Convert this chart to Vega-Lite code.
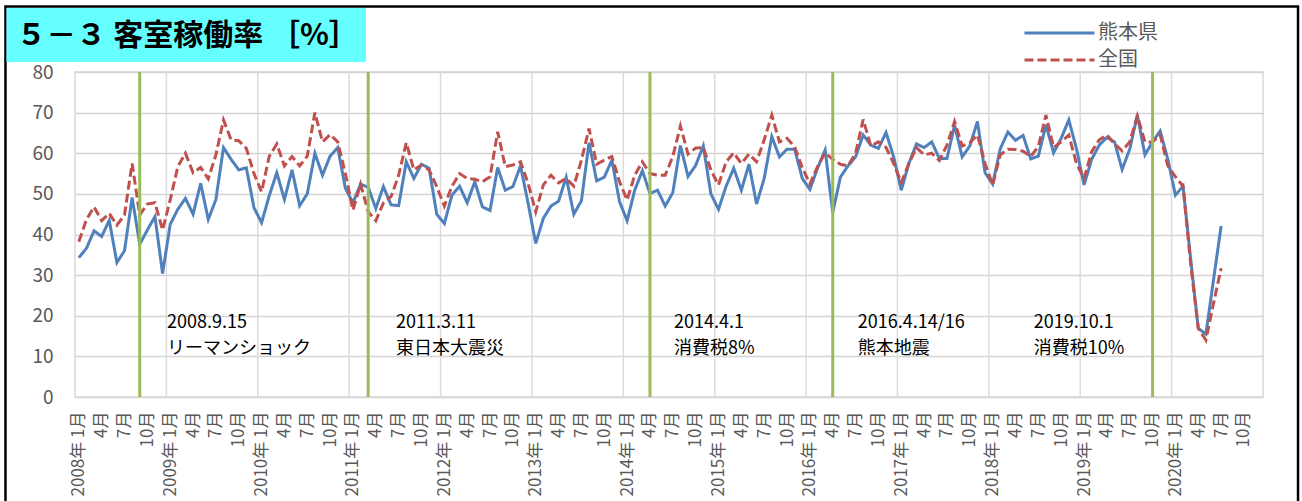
{
  "$schema": "https://vega.github.io/schema/vega-lite/v6.json",
  "width": 1188,
  "height": 325,
  "autosize": {"type": "none"},
  "padding": {"left": 75, "top": 72, "right": 39, "bottom": 104},
  "background": "white",
  "config": {
    "font": "Noto Sans CJK JP",
    "view": {"stroke": "#d9d9d9", "strokeWidth": 1.5}
  },
  "datasets": {
    "rates": [
      {"i":0,"熊本県":34.3,"全国":38.2},{"i":1,"熊本県":36.6,"全国":43.7},{"i":2,"熊本県":40.9,"全国":46.8},{"i":3,"熊本県":39.5,"全国":43.4},
      {"i":4,"熊本県":43.5,"全国":45.2},{"i":5,"熊本県":33.1,"全国":42.3},{"i":6,"熊本県":36.0,"全国":44.8},{"i":7,"熊本県":49.1,"全国":57.5},
      {"i":8,"熊本県":37.6,"全国":44.8},{"i":9,"熊本県":41.1,"全国":47.5},{"i":10,"熊本県":44.4,"全国":47.8},{"i":11,"熊本県":30.4,"全国":41.1},
      {"i":12,"熊本県":42.5,"全国":48.5},{"i":13,"熊本県":46.2,"全国":56.7},{"i":14,"熊本県":48.9,"全国":60.0},{"i":15,"熊本県":45.0,"全国":55.2},
      {"i":16,"熊本県":52.6,"全国":56.5},{"i":17,"熊本県":43.7,"全国":53.7},{"i":18,"熊本県":48.6,"全国":59.6},{"i":19,"熊本県":61.4,"全国":68.2},
      {"i":20,"熊本県":58.5,"全国":63.3},{"i":21,"熊本県":55.9,"全国":63.1},{"i":22,"熊本県":56.4,"全国":61.2},{"i":23,"熊本県":46.6,"全国":55.0},
      {"i":24,"熊本県":42.9,"全国":50.5},{"i":25,"熊本県":49.5,"全国":59.2},{"i":26,"熊本県":55.2,"全国":62.3},{"i":27,"熊本県":48.6,"全国":56.9},
      {"i":28,"熊本県":55.9,"全国":59.2},{"i":29,"熊本県":47.1,"全国":56.9},{"i":30,"熊本県":50.0,"全国":59.3},{"i":31,"熊本県":60.0,"全国":70.0},
      {"i":32,"熊本県":54.6,"全国":62.8},{"i":33,"熊本県":59.3,"全国":64.6},{"i":34,"熊本県":61.4,"全国":62.8},{"i":35,"熊本県":51.4,"全国":55.0},
      {"i":36,"熊本県":47.8,"全国":46.0},{"i":37,"熊本県":52.4,"全国":52.4},{"i":38,"熊本県":51.6,"全国":45.6},{"i":39,"熊本県":46.4,"全国":43.4},
      {"i":40,"熊本県":51.8,"全国":47.8},{"i":41,"熊本県":47.3,"全国":49.3},{"i":42,"熊本県":47.1,"全国":54.6},{"i":43,"熊本県":57.9,"全国":62.6},
      {"i":44,"熊本県":53.8,"全国":55.9},{"i":45,"熊本県":57.3,"全国":57.1},{"i":46,"熊本県":56.3,"全国":55.9},{"i":47,"熊本県":45.0,"全国":51.8},
      {"i":48,"熊本県":42.7,"全国":47.0},{"i":49,"熊本県":49.7,"全国":51.9},{"i":50,"熊本県":51.9,"全国":55.0},{"i":51,"熊本県":47.8,"全国":53.8},
      {"i":52,"熊本県":53.0,"全国":53.6},{"i":53,"熊本県":46.8,"全国":53.0},{"i":54,"熊本県":45.9,"全国":54.2},{"i":55,"熊本県":56.5,"全国":65.3},
      {"i":56,"熊本県":50.9,"全国":56.7},{"i":57,"熊本県":51.8,"全国":57.1},{"i":58,"熊本県":56.9,"全国":57.9},{"i":59,"熊本県":47.7,"全国":52.6},
      {"i":60,"熊本県":37.8,"全国":45.6},{"i":61,"熊本県":44.0,"全国":52.2},{"i":62,"熊本県":47.0,"全国":54.6},{"i":63,"熊本県":48.2,"全国":52.7},
      {"i":64,"熊本県":54.1,"全国":53.8},{"i":65,"熊本県":45.0,"全国":51.9},{"i":66,"熊本県":48.3,"全国":58.3},{"i":67,"熊本県":62.6,"全国":66.1},
      {"i":68,"熊本県":53.2,"全国":57.3},{"i":69,"熊本県":54.1,"全国":58.3},{"i":70,"熊本県":58.3,"全国":59.2},{"i":71,"熊本県":48.1,"全国":53.0},
      {"i":72,"熊本県":43.4,"全国":48.5},{"i":73,"熊本県":50.9,"全国":54.6},{"i":74,"熊本県":55.7,"全国":57.9},{"i":75,"熊本県":50.1,"全国":55.0},
      {"i":76,"熊本県":50.9,"全国":54.6},{"i":77,"熊本県":47.0,"全国":54.6},{"i":78,"熊本県":50.3,"全国":59.2},{"i":79,"熊本県":61.9,"全国":66.7},
      {"i":80,"熊本県":54.3,"全国":59.8},{"i":81,"熊本県":57.0,"全国":61.3},{"i":82,"熊本県":61.8,"全国":61.4},{"i":83,"熊本県":50.0,"全国":55.9},
      {"i":84,"熊本県":46.2,"全国":52.2},{"i":85,"熊本県":51.9,"全国":57.9},{"i":86,"熊本県":56.3,"全国":60.1},{"i":87,"熊本県":50.9,"全国":57.5},
      {"i":88,"熊本県":57.3,"全国":59.8},{"i":89,"熊本県":47.5,"全国":57.9},{"i":90,"熊本県":53.8,"全国":63.3},{"i":91,"熊本県":64.1,"全国":69.4},
      {"i":92,"熊本県":59.1,"全国":62.8},{"i":93,"熊本県":61.0,"全国":63.7},{"i":94,"熊本県":61.0,"全国":61.6},{"i":95,"熊本県":53.8,"全国":56.5},
      {"i":96,"熊本県":51.1,"全国":52.4},{"i":97,"熊本県":56.3,"全国":56.7},{"i":98,"熊本県":60.8,"全国":60.1},{"i":99,"熊本県":45.4,"全国":58.5},
      {"i":100,"熊本県":54.1,"全国":57.3},{"i":101,"熊本県":56.9,"全国":56.9},{"i":102,"熊本県":59.1,"全国":60.0},{"i":103,"熊本県":64.5,"全国":68.3},
      {"i":104,"熊本県":62.0,"全国":61.8},{"i":105,"熊本県":61.2,"全国":62.8},{"i":106,"熊本県":65.1,"全国":61.4},{"i":107,"熊本県":59.1,"全国":57.5},
      {"i":108,"熊本県":50.9,"全国":52.8},{"i":109,"熊本県":57.5,"全国":57.5},{"i":110,"熊本県":62.3,"全国":61.4},{"i":111,"熊本県":61.4,"全国":59.6},
      {"i":112,"熊本県":62.8,"全国":60.0},{"i":113,"熊本県":58.7,"全国":58.2},{"i":114,"熊本県":58.7,"全国":62.0},{"i":115,"熊本県":66.9,"全国":67.8},
      {"i":116,"熊本県":59.1,"全国":61.8},{"i":117,"熊本県":61.8,"全国":62.6},{"i":118,"熊本県":67.8,"全国":64.5},{"i":119,"熊本県":55.2,"全国":57.5},
      {"i":120,"熊本県":52.4,"全国":52.2},{"i":121,"熊本県":61.1,"全国":59.6},{"i":122,"熊本県":65.2,"全国":61.0},{"i":123,"熊本県":63.2,"全国":60.9},
      {"i":124,"熊本県":64.4,"全国":60.5},{"i":125,"熊本県":58.6,"全国":59.2},{"i":126,"熊本県":59.3,"全国":61.7},{"i":127,"熊本県":67.0,"全国":69.4},
      {"i":128,"熊本県":60.1,"全国":61.4},{"i":129,"熊本県":63.7,"全国":62.8},{"i":130,"熊本県":68.2,"全国":64.5},{"i":131,"熊本県":61.2,"全国":57.5},
      {"i":132,"熊本県":52.2,"全国":53.8},{"i":133,"熊本県":58.5,"全国":60.4},{"i":134,"熊本県":62.0,"全国":63.3},{"i":135,"熊本県":63.9,"全国":64.5},
      {"i":136,"熊本県":62.8,"全国":62.3},{"i":137,"熊本県":56.0,"全国":60.6},{"i":138,"熊本県":61.0,"全国":62.8},{"i":139,"熊本県":69.4,"全国":69.2},
      {"i":140,"熊本県":59.6,"全国":62.8},{"i":141,"熊本県":62.8,"全国":62.8},{"i":142,"熊本県":65.5,"全国":64.5},{"i":143,"熊本県":58.5,"全国":56.9},
      {"i":144,"熊本県":49.7,"全国":54.2},{"i":145,"熊本県":51.9,"全国":51.9},{"i":146,"熊本県":34.0,"全国":32.8},{"i":147,"熊本県":16.9,"全国":16.9},
      {"i":148,"熊本県":15.5,"全国":14.0},{"i":149,"熊本県":28.8,"全国":23.0},{"i":150,"熊本県":42.1,"全国":31.7}
    ],
    "events": [
      {"i":8,"note":"2008.9.15\nリーマンショック","tx":11.58,"ty":20.4},
      {"i":38,"note":"2011.3.11\n東日本大震災","tx":41.65,"ty":20.4},
      {"i":75,"note":"2014.4.1\n消費税8%","tx":78.16,"ty":20.4},
      {"i":99,"note":"2016.4.14/16\n熊本地震","tx":102.3,"ty":20.4},
      {"i":141,"note":"2019.10.1\n消費税10%","tx":125.4,"ty":20.4}
    ],
    "yearStarts": [
      {"year":2009,"b":11.5},{"year":2010,"b":23.5},{"year":2011,"b":35.5},{"year":2012,"b":47.5},
      {"year":2013,"b":59.5},{"year":2014,"b":71.5},{"year":2015,"b":83.5},{"year":2016,"b":95.5},
      {"year":2017,"b":107.5},{"year":2018,"b":119.5},{"year":2019,"b":131.5},{"year":2020,"b":143.5}
    ]
  },
  "layer": [
    {
      "data": {"name": "yearStarts"},
      "mark": {"type": "rule", "color": "#dcdcdc", "strokeWidth": 1.5},
      "encoding": {
        "x": {"field": "b", "type": "quantitative", "scale": {"domain": [-0.5, 155.5], "nice": false, "zero": false}},
        "y": {"datum": 0, "type": "quantitative", "scale": {"domain": [0, 80], "nice": false, "zero": false}},
        "y2": {"datum": 80}
      }
    },
    {
      "data": {"name": "rates"},
      "transform": [{"fold": ["熊本県", "全国"], "as": ["series", "rate"]}],
      "mark": {"type": "line", "strokeWidth": 3, "clip": false},
      "encoding": {
        "x": {
          "field": "i", "type": "quantitative",
          "scale": {"domain": [-0.5, 155.5], "nice": false, "zero": false},
          "axis": {
            "title": null,
            "values": [0,3,6,9,12,15,18,21,24,27,30,33,36,39,42,45,48,51,54,57,60,63,66,69,72,75,78,81,84,87,90,93,96,99,102,105,108,111,114,117,120,123,126,129,132,135,138,141,144,147,150,153],
            "tickCount": 500,
            "labelExpr": "datum.value % 12 == 0 ? (2008 + datum.value / 12) + '年 1月' : ((datum.value % 12) + 1) + '月'",
            "labelAngle": -90,
            "labelAlign": "right",
            "labelBaseline": "middle",
            "labelFontSize": 17,
            "labelColor": "#595959",
            "labelPadding": 14,
            "labelOverlap": false,
            "labelFlush": false,
            "labelBound": false,
            "ticks": false,
            "domain": false,
            "grid": false
          }
        },
        "y": {
          "field": "rate", "type": "quantitative",
          "scale": {"domain": [0, 80], "nice": false, "zero": false},
          "axis": {
            "title": null,
            "values": [0,10,20,30,40,50,60,70,80],
            "tickCount": 50,
            "labelFontSize": 19,
            "labelColor": "#595959",
            "labelPadding": 22,
            "ticks": false,
            "domain": false,
            "grid": true,
            "gridColor": "#d4d4d4",
            "gridWidth": 1.5
          }
        },
        "color": {
          "field": "series", "type": "nominal",
          "scale": {"domain": ["熊本県", "全国"], "range": ["#4F81BD", "#C0504D"]},
          "legend": {"title": null, "orient": "none", "legendX": 973, "legendY": -50.5, "symbolType": "M-3.5,0H3.5", "symbolSize": 400, "symbolStrokeWidth": 3, "labelFontSize": 20, "labelColor": "#595959", "labelOffset": 27, "rowPadding": 5, "padding": 0}
        },
        "strokeDash": {
          "field": "series", "type": "nominal",
          "scale": {"domain": ["熊本県", "全国"], "range": [[1, 0], [9, 4]]},
          "legend": {"title": null, "orient": "none", "legendX": 973, "legendY": -50.5, "symbolType": "M-3.5,0H3.5", "symbolSize": 400, "symbolStrokeWidth": 3, "labelFontSize": 20, "labelColor": "#595959", "labelOffset": 27, "rowPadding": 5, "padding": 0}
        }
      }
    },
    {
      "data": {"values": [{}]},
      "mark": {"type": "rect", "filled": false, "stroke": "#000000", "strokeWidth": 2.5, "clip": false},
      "encoding": {
        "x": {"datum": -9.63, "type": "quantitative", "scale": {"domain": [-0.5, 155.5], "nice": false, "zero": false}},
        "x2": {"datum": 160.1},
        "y": {"datum": 96.12, "type": "quantitative", "scale": {"domain": [0, 80], "nice": false, "zero": false}},
        "y2": {"datum": -30.3}
      }
    },
    {
      "data": {"values": [{}]},
      "mark": {"type": "rect", "color": "#66FFFF", "clip": false},
      "encoding": {
        "x": {"datum": -9.5, "type": "quantitative", "scale": {"domain": [-0.5, 155.5], "nice": false, "zero": false}},
        "x2": {"datum": 37.71},
        "y": {"datum": 95.75, "type": "quantitative", "scale": {"domain": [0, 80], "nice": false, "zero": false}},
        "y2": {"datum": 82.46}
      }
    },
    {
      "data": {"values": [{}]},
      "mark": {"type": "text", "text": "５－３ 客室稼働率 ［%］", "align": "left", "baseline": "middle", "fontSize": 30, "fontWeight": "bold", "color": "#000000", "clip": false},
      "encoding": {
        "x": {"datum": -8.2, "type": "quantitative", "scale": {"domain": [-0.5, 155.5], "nice": false, "zero": false}},
        "y": {"datum": 88.86, "type": "quantitative", "scale": {"domain": [0, 80], "nice": false, "zero": false}}
      }
    },
    {
      "data": {"name": "events"},
      "mark": {"type": "rule", "color": "#9BBB59", "strokeWidth": 3},
      "encoding": {
        "x": {"field": "i", "type": "quantitative", "scale": {"domain": [-0.5, 155.5], "nice": false, "zero": false}},
        "y": {"datum": 0, "type": "quantitative", "scale": {"domain": [0, 80], "nice": false, "zero": false}},
        "y2": {"datum": 80}
      }
    },
    {
      "data": {"name": "events"},
      "mark": {"type": "text", "align": "left", "baseline": "top", "fontSize": 18, "lineHeight": 26, "lineBreak": "\n", "color": "#000000", "clip": false},
      "encoding": {
        "x": {"field": "tx", "type": "quantitative", "scale": {"domain": [-0.5, 155.5], "nice": false, "zero": false}},
        "y": {"field": "ty", "type": "quantitative", "scale": {"domain": [0, 80], "nice": false, "zero": false}},
        "text": {"field": "note"}
      }
    }
  ]
}
